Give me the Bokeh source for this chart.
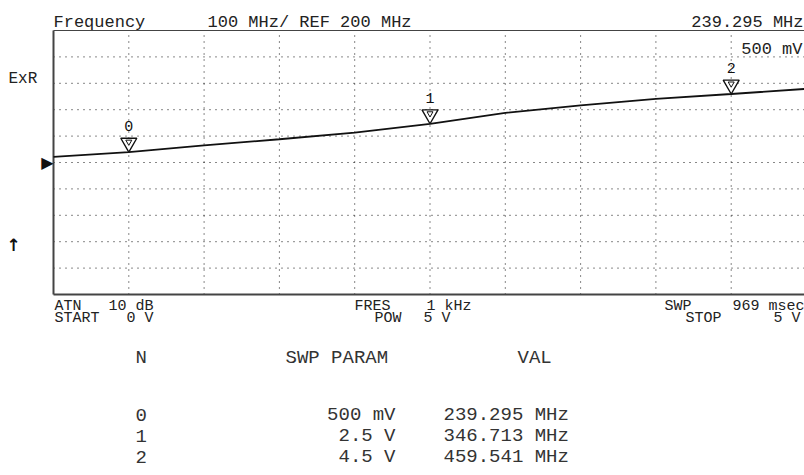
from bokeh.plotting import figure
from bokeh.models import Range1d, Label
from bokeh.embed import file_html
from bokeh.resources import INLINE
from bokeh.core.properties import value

# ---------------- data ----------------
SWEEP_V = [0.0, 0.5, 1.0, 1.5, 2.0, 2.5, 3.0, 3.5, 4.0, 4.5, 5.0]
FREQ_MHZ = [221, 239.3, 265, 288, 313, 346.7, 388, 416, 441, 459.5, 479]

MARKER_N = ["0", "1", "2"]
MARKER_V = [0.5, 2.5, 4.5]
MARKER_PARAM = ["500 mV", "2.5 V", "4.5 V"]
MARKER_MHZ = [239.295, 346.713, 459.541]

REF_MHZ = 200
SCALE_MHZ = 100
START_V = 0
STOP_V = 5
ATN_DB = 10
FRES_KHZ = 1
POW_V = 5
SWP_MSEC = 969

# ---------------- layout ----------------
W, H = 804, 475
BOX_L, BOX_T, BOX_B = 53, 30, 294      # instrument display box (pixels)
BOX_W = 753                             # 10 divisions, runs past the window
NDIV = 10

y_bot = REF_MHZ - NDIV / 2 * SCALE_MHZ
y_top = REF_MHZ + NDIV / 2 * SCALE_MHZ
px_per_v = BOX_W / (STOP_V - START_V)
px_per_mhz = (BOX_B - BOX_T) / (y_top - y_bot)

x_lo = START_V - BOX_L / px_per_v
x_hi = START_V + (W - BOX_L) / px_per_v
y_hi = y_top + BOX_T / px_per_mhz
y_lo = y_bot - (H - BOX_B) / px_per_mhz

p = figure(width=W, height=H, output_backend="svg", toolbar_location=None,
           x_range=Range1d(x_lo, x_hi), y_range=Range1d(y_lo, y_hi),
           x_axis_location=None, y_axis_location=None,
           min_border=0, outline_line_color=None,
           background_fill_color="white", border_fill_color="white")
p.grid.visible = False

# dotted graticule
xdiv = (STOP_V - START_V) / NDIV
xticks = [START_V + i * xdiv for i in range(1, NDIV)]
yticks = [y_bot + i * SCALE_MHZ for i in range(1, NDIV)]
p.segment(x0=xticks, x1=xticks, y0=[y_bot] * len(xticks), y1=[y_top] * len(xticks),
          line_color="#111111", line_dash="1 5", line_width=1)
p.segment(x0=[START_V] * len(yticks), x1=[STOP_V] * len(yticks), y0=yticks, y1=yticks,
          line_color="#111111", line_dash="1 5", line_width=1)

# box borders (left, top, bottom)
p.segment(x0=[START_V], x1=[START_V], y0=[y_bot], y1=[y_top], line_color="#444444", line_width=2)
p.segment(x0=[START_V], x1=[STOP_V], y0=[y_top], y1=[y_top], line_color="#444444", line_width=1.2)
p.segment(x0=[START_V], x1=[STOP_V], y0=[y_bot], y1=[y_bot], line_color="#444444", line_width=2)

# trace
p.line(SWEEP_V, FREQ_MHZ, line_color="#111111", line_width=1.8)

# markers (tip on the trace)
outer = 16
tip_px = (outer / 2) * 3 ** 0.5 * 2 / 3
cy = [m + tip_px / px_per_mhz for m in MARKER_MHZ]
p.scatter(MARKER_V, cy, marker="inverted_triangle", size=outer,
          fill_color="white", line_color="#111111", line_width=1.4)
cy2 = [m + (tip_px + 1) / px_per_mhz for m in MARKER_MHZ]
p.scatter(MARKER_V, cy2, marker="inverted_triangle", size=6,
          fill_color=None, line_color="#111111", line_width=1)
p.text(MARKER_V, MARKER_MHZ, text=MARKER_N, y_offset=-26,
       text_align="center", text_baseline="middle",
       text_font=value("Liberation Mono"), text_font_size="15px",
       text_color="#111111")

FONT = "Liberation Mono"


def lab(text, x, y, dx=0, dy=0, align="left", base="alphabetic",
        size="17px", color="#222222", font=FONT, style="normal"):
    p.add_layout(Label(x=x, y=y, x_offset=dx, y_offset=dy, text=text,
                       text_align=align, text_baseline=base,
                       text_font=font, text_font_size=size,
                       text_color=color, text_font_style=style))


x_right = x_hi

# header
lab("Frequency", START_V, y_top, 0, 8)
lab(f"{SCALE_MHZ} MHz/ REF {REF_MHZ} MHz", START_V, y_top, 154, 8)
lab(f"{MARKER_MHZ[0]:.3f} MHz", x_right, y_top, -1, 8, align="right")
lab(MARKER_PARAM[0], x_right, y_top, -2, -19, align="right")

# left side
lab("ExR", START_V, y_top, -45, -48, size="16px")
lab("\u25B6", START_V, REF_MHZ, -6, 0, align="center", base="middle",
    size="16px", color="#111111", font="DejaVu Sans")
lab("\u2191", START_V, y_bot, -40, 50, align="center", base="middle",
    size="17px", color="#111111", font="DejaVu Sans", style="bold")

# bottom annotations
BS = "15px"
r1, r2 = -12, -24
lab("ATN", START_V, y_bot, 1, r1, size=BS)
lab(f"{ATN_DB} dB", START_V, y_bot, 55, r1, size=BS)
lab("START", START_V, y_bot, 1, r2, size=BS)
lab(f"{START_V} V", START_V, y_bot, 73, r2, size=BS)
lab("FRES", START_V, y_bot, 301, r1, size=BS)
lab(f"{FRES_KHZ} kHz", START_V, y_bot, 373, r1, size=BS)
lab("POW", START_V, y_bot, 321, r2, size=BS)
lab(f"{POW_V} V", START_V, y_bot, 370, r2, size=BS)
lab("SWP", START_V, y_bot, 611, r1, size=BS)
lab(f"{SWP_MSEC} msec", x_right, y_bot, 0, r1, align="right", size=BS)
lab("STOP", START_V, y_bot, 632, r2, size=BS)
lab(f"{STOP_V} V", x_right, y_bot, -4, r2, align="right", size=BS)

# marker table
TS = "19px"
TC = "#333333"
lab("N", START_V, y_bot, 82, -63, size=TS, color=TC)
lab("SWP PARAM", START_V, y_bot, 232, -63, size=TS, color=TC)
lab("VAL", START_V, y_bot, 464, -63, size=TS, color=TC)
for i, (n, prm, f) in enumerate(zip(MARKER_N, MARKER_PARAM, MARKER_MHZ)):
    dy = -120 - 21 * i
    lab(n, START_V, y_bot, 82, dy, size=TS, color=TC)
    lab(prm, START_V, y_bot, 342, dy, align="right", size=TS, color=TC)
    lab(f"{f:.3f} MHz", START_V, y_bot, 390, dy, size=TS, color=TC)

open("out.html", "w").write(file_html(p, INLINE))
